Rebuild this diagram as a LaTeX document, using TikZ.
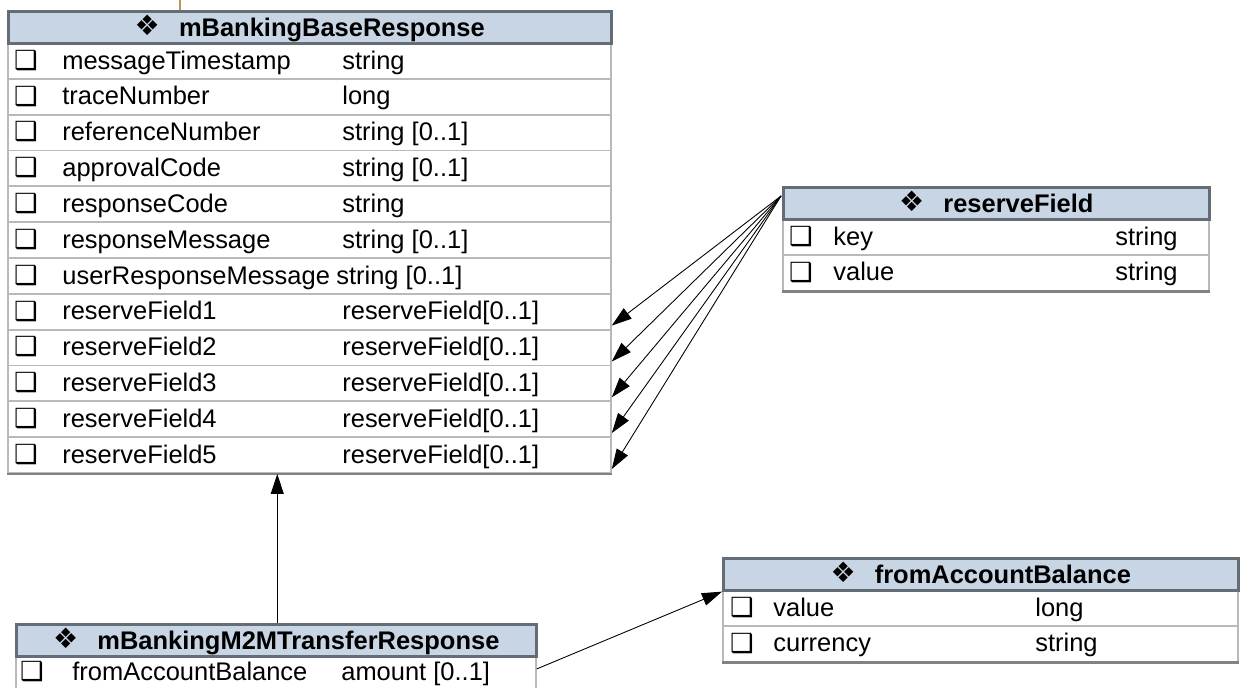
\documentclass[tikz,border=0pt]{standalone}
\usepackage{fontspec}
\setmainfont{Liberation Sans}
\newfontfamily\dingfont{DejaVu Sans}
\usetikzlibrary{arrows.meta}

\newcommand{\hdrmark}{\raisebox{0.5pt}{\dingfont\fontsize{16}{16}\selectfont ❖}\hspace{0.75em}}
\newcommand{\chk}{❑}

\begin{document}
\begin{tikzpicture}[x=0.02cm,y=-0.02cm,
  every node/.style={font=\fontsize{14.5}{17}\selectfont},
  head/.style={draw=hdrline,fill=hdrfill,line width=1.5pt,minimum width=#1,minimum height=0.64cm,inner sep=0pt,anchor=north west,text height=10.4pt,text depth=0pt,font=\fontsize{14.5}{17}\selectfont\bfseries},
  rowbox/.style={draw=rowline,line width=1.1pt,minimum width=#1,minimum height=0.7167cm,inner sep=0pt,anchor=north west},
  cell/.style={anchor=west,inner sep=0pt,text height=10.4pt,text depth=0pt},
  tick/.style={anchor=center,inner sep=0pt,text height=10.6pt,text depth=0pt,font=\dingfont\bfseries\fontsize{15}{15}\selectfont},
  conn/.style={black,line width=0.5pt,-{Triangle[length=0.4cm,width=0.26cm]}}]
\definecolor{hdrfill}{RGB}{200,213,228}
\definecolor{hdrline}{RGB}{100,108,118}
\definecolor{rowline}{RGB}{185,185,185}
\definecolor{botline}{RGB}{130,130,130}
\definecolor{stub}{RGB}{190,150,70}
\useasboundingbox (0,0) rectangle (1240,687);

% stub at the top edge
\draw[stub,line width=1.1pt] (180,0) -- (180,10);

% mBankingBaseResponse
\node[rowbox=12.06cm] (base-r1) at (7,42) {};
\node[rowbox=12.06cm] (base-r2) at (7,77.8) {};
\node[rowbox=12.06cm] (base-r3) at (7,113.7) {};
\node[rowbox=12.06cm] (base-r4) at (7,149.5) {};
\node[rowbox=12.06cm] (base-r5) at (7,185.3) {};
\node[rowbox=12.06cm] (base-r6) at (7,221.2) {};
\node[rowbox=12.06cm] (base-r7) at (7,257) {};
\node[rowbox=12.06cm] (base-r8) at (7,292.8) {};
\node[rowbox=12.06cm] (base-r9) at (7,328.7) {};
\node[rowbox=12.06cm] (base-r10) at (7,364.5) {};
\node[rowbox=12.06cm] (base-r11) at (7,400.3) {};
\node[rowbox=12.06cm] (base-r12) at (7,436.2) {};
\draw[botline,line width=1.6pt] (base-r12.south west) -- (base-r12.south east);
\node[head=12.06cm] (base-head) at (7,10) {\hdrmark mBankingBaseResponse};
\node[tick] (base-k1) at (26,59.9) {\chk};
\node[cell] (base-n1) at (62,59.9) {messageTimestamp};
\node[cell] (base-t1) at (342,59.9) {string};
\node[tick] (base-k2) at (26,95.8) {\chk};
\node[cell] (base-n2) at (62,95.8) {traceNumber};
\node[cell] (base-t2) at (342,95.8) {long};
\node[tick] (base-k3) at (26,131.6) {\chk};
\node[cell] (base-n3) at (62,131.6) {referenceNumber};
\node[cell] (base-t3) at (342,131.6) {string [0..1]};
\node[tick] (base-k4) at (26,167.4) {\chk};
\node[cell] (base-n4) at (62,167.4) {approvalCode};
\node[cell] (base-t4) at (342,167.4) {string [0..1]};
\node[tick] (base-k5) at (26,203.2) {\chk};
\node[cell] (base-n5) at (62,203.2) {responseCode};
\node[cell] (base-t5) at (342,203.2) {string};
\node[tick] (base-k6) at (26,239.1) {\chk};
\node[cell] (base-n6) at (62,239.1) {responseMessage};
\node[cell] (base-t6) at (342,239.1) {string [0..1]};
\node[tick] (base-k7) at (26,274.9) {\chk};
\node[cell] (base-n7) at (62,274.9) {userResponseMessage};
\node[cell] (base-t7) at (336,274.9) {string [0..1]};
\node[tick] (base-k8) at (26,310.8) {\chk};
\node[cell] (base-n8) at (62,310.8) {reserveField1};
\node[cell] (base-t8) at (342,310.8) {reserveField[0..1]};
\node[tick] (base-k9) at (26,346.6) {\chk};
\node[cell] (base-n9) at (62,346.6) {reserveField2};
\node[cell] (base-t9) at (342,346.6) {reserveField[0..1]};
\node[tick] (base-k10) at (26,382.4) {\chk};
\node[cell] (base-n10) at (62,382.4) {reserveField3};
\node[cell] (base-t10) at (342,382.4) {reserveField[0..1]};
\node[tick] (base-k11) at (26,418.2) {\chk};
\node[cell] (base-n11) at (62,418.2) {reserveField4};
\node[cell] (base-t11) at (342,418.2) {reserveField[0..1]};
\node[tick] (base-k12) at (26,454.1) {\chk};
\node[cell] (base-n12) at (62,454.1) {reserveField5};
\node[cell] (base-t12) at (342,454.1) {reserveField[0..1]};

% reserveField
\node[rowbox=8.52cm] (rf-r1) at (782,218) {};
\node[rowbox=8.52cm] (rf-r2) at (782,253.8) {};
\draw[botline,line width=1.6pt] (rf-r2.south west) -- (rf-r2.south east);
\node[head=8.52cm] (rf-head) at (782,186) {\hdrmark reserveField};
\node[tick] (rf-k1) at (801,235.9) {\chk};
\node[cell] (rf-n1) at (833,235.9) {key};
\node[cell] (rf-t1) at (1115,235.9) {string};
\node[tick] (rf-k2) at (801,271.7) {\chk};
\node[cell] (rf-n2) at (833,271.7) {value};
\node[cell] (rf-t2) at (1115,271.7) {string};

% fromAccountBalance
\node[rowbox=10.3cm] (fab-r1) at (722,589) {};
\node[rowbox=10.3cm] (fab-r2) at (722,624.8) {};
\draw[botline,line width=1.6pt] (fab-r2.south west) -- (fab-r2.south east);
\node[head=10.3cm] (fab-head) at (722,557) {\hdrmark fromAccountBalance};
\node[tick] (fab-k1) at (742,606.9) {\chk};
\node[cell] (fab-n1) at (773,606.9) {value};
\node[cell] (fab-t1) at (1035,606.9) {long};
\node[tick] (fab-k2) at (742,642.8) {\chk};
\node[cell] (fab-n2) at (773,642.8) {currency};
\node[cell] (fab-t2) at (1035,642.8) {string};

% mBankingM2MTransferResponse
\node[rowbox=10.4cm] (m2m-r1) at (15,655) {};
\node[head=10.4cm] (m2m-head) at (15,623) {\hdrmark mBankingM2MTransferResponse};
\node[tick] (m2m-k1) at (32,671.5) {\chk};
\node[cell] (m2m-n1) at (72,671.5) {fromAccountBalance};
\node[cell] (m2m-t1) at (341,671.5) {amount [0..1]};

% connectors
\coordinate (rf-src) at (781,196);
\draw[conn] (rf-src) -- ([yshift=0.1cm]base-r8.south east);
\draw[conn] (rf-src) -- ([yshift=0.1cm]base-r9.south east);
\draw[conn] (rf-src) -- ([yshift=0.1cm]base-r10.south east);
\draw[conn] (rf-src) -- ([yshift=0.1cm]base-r11.south east);
\draw[conn] (rf-src) -- ([yshift=0.1cm]base-r12.south east);
\draw[conn] ([xshift=0.02cm]m2m-head.north) -- ([xshift=0.02cm]m2m-head.north |- base-r12.south);
\draw[conn] ([yshift=0.1cm]m2m-r1.east) -- (fab-head.south west);
\end{tikzpicture}
\end{document}
